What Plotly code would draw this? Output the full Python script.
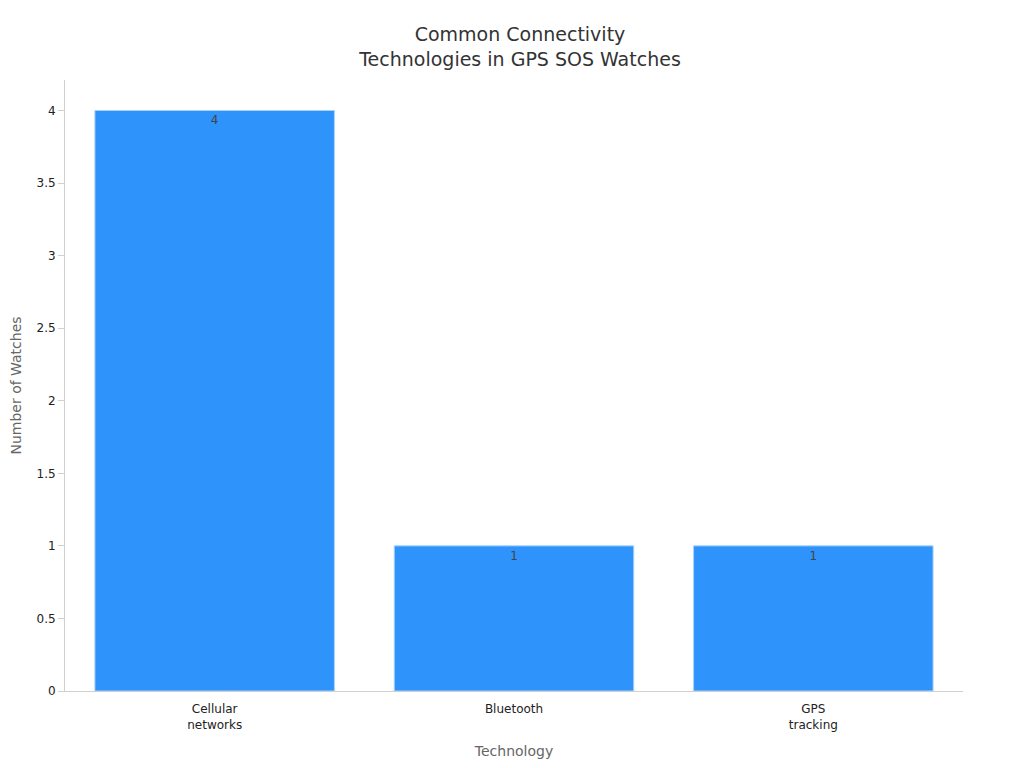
import plotly.graph_objects as go

# data
technologies = ["Cellular<br>networks", "Bluetooth", "GPS<br>tracking"]
watch_counts = [4, 1, 1]

fig = go.Figure(go.Bar(
    x=technologies,
    y=watch_counts,
    text=watch_counts,
    textposition="inside",
    insidetextanchor="end",
    textfont=dict(size=12, color="#444444"),
    marker=dict(color="#2e93fa", line=dict(color="#a8d0fb", width=1)),
    width=0.8,
))

fig.update_layout(
    width=1024, height=768,
    template="plotly_white",
    font=dict(family="DejaVu Sans", size=12, color="#222222"),
    title=dict(
        text="Common Connectivity<br>Technologies in GPS SOS Watches",
        font=dict(size=19, color="#333333"),
        x=0.5, xanchor="center", y=0.957,
    ),
    margin=dict(l=57, r=69, t=72, b=85),
    plot_bgcolor="white",
    showlegend=False,
    xaxis=dict(
        title=dict(text="Technology", font=dict(size=14, color="#666666"), standoff=15),
        showline=True, linecolor="#d0d0d0", showgrid=False, automargin=False,
        ticks="", tickfont=dict(size=12), ticklabelstandoff=7,
    ),
    yaxis=dict(
        title=dict(text="Number of Watches", font=dict(size=14, color="#666666")),
        range=[0, 4.21], dtick=0.5, automargin=False,
        showline=True, linecolor="#d0d0d0", showgrid=False, zeroline=False,
        ticks="outside", ticklen=6, tickcolor="#d0d0d0", tickfont=dict(size=12),
    ),
)

fig.write_html("out.html")
